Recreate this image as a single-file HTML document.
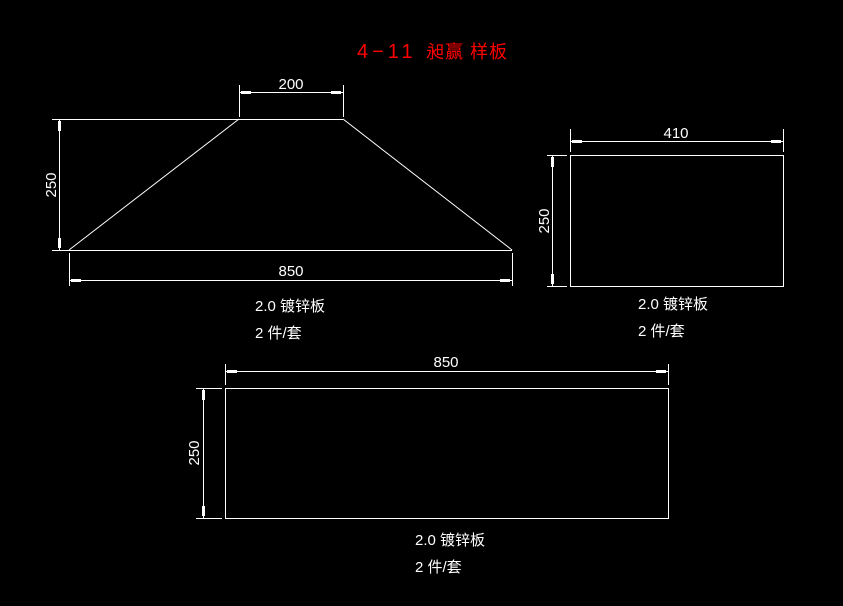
<!DOCTYPE html>
<html><head><meta charset="utf-8"><style>
html,body{margin:0;padding:0;background:#000;}
svg{display:block}
text{font-family:"Liberation Sans","Noto Sans CJK SC",sans-serif;fill:#fff;}
</style></head><body>
<svg width="843" height="606" viewBox="0 0 843 606" xmlns="http://www.w3.org/2000/svg">
<g stroke="#fff" stroke-width="1" fill="none" shape-rendering="crispEdges">
<line x1="52" y1="119.5" x2="343" y2="119.5"/>
<line x1="52" y1="250.5" x2="512" y2="250.5"/>
<line x1="69" y1="250" x2="239" y2="119" shape-rendering="auto"/>
<line x1="343" y1="119" x2="512" y2="250" shape-rendering="auto"/>
<line x1="59.5" y1="119" x2="59.5" y2="250"/>
<line x1="239.5" y1="85" x2="239.5" y2="117"/>
<line x1="343.5" y1="85" x2="343.5" y2="117"/>
<line x1="239" y1="92.5" x2="343" y2="92.5"/>
<line x1="69.5" y1="253" x2="69.5" y2="286"/>
<line x1="512.5" y1="253" x2="512.5" y2="286"/>
<line x1="69" y1="280.5" x2="512" y2="280.5"/>
<rect x="570.5" y="155.5" width="213" height="131"/>
<line x1="570.5" y1="129" x2="570.5" y2="152"/>
<line x1="783.5" y1="129" x2="783.5" y2="152"/>
<line x1="570" y1="141.5" x2="783" y2="141.5"/>
<line x1="547" y1="155.5" x2="567" y2="155.5"/>
<line x1="547" y1="286.5" x2="567" y2="286.5"/>
<line x1="552.5" y1="155" x2="552.5" y2="286"/>
<rect x="225.5" y="388.5" width="443" height="130"/>
<line x1="225.5" y1="364" x2="225.5" y2="385"/>
<line x1="668.5" y1="364" x2="668.5" y2="385"/>
<line x1="225" y1="371.5" x2="668" y2="371.5"/>
<line x1="196" y1="388.5" x2="222" y2="388.5"/>
<line x1="196" y1="518.5" x2="222" y2="518.5"/>
<line x1="203.5" y1="388" x2="203.5" y2="518"/>
</g>
<g fill="#fff">
<rect x="241" y="91" width="10" height="3"/><rect x="331" y="91" width="10" height="3"/>
<rect x="71" y="279" width="10" height="3"/><rect x="500" y="279" width="10" height="3"/>
<rect x="572" y="140" width="10" height="3"/><rect x="771" y="140" width="10" height="3"/>
<rect x="227" y="370" width="10" height="3"/><rect x="656" y="370" width="10" height="3"/>
<rect x="58" y="121" width="3" height="10"/><rect x="58" y="238" width="3" height="10"/>
<rect x="551" y="157" width="3" height="10"/><rect x="551" y="274" width="3" height="10"/>
<rect x="202" y="390" width="3" height="10"/><rect x="202" y="506" width="3" height="10"/>
</g>
<text x="357" y="58" font-size="20" letter-spacing="4" style="fill:#f00">4−11 <tspan font-size="18" letter-spacing="1">昶赢 样板</tspan></text>
<text x="291" y="89" font-size="15" text-anchor="middle">200</text>
<text x="291" y="276" font-size="15" text-anchor="middle">850</text>
<text x="676" y="138" font-size="15" text-anchor="middle">410</text>
<text x="446" y="367" font-size="15" text-anchor="middle">850</text>
<text transform="translate(56,185) rotate(-90)" font-size="15" text-anchor="middle">250</text>
<text transform="translate(549,221) rotate(-90)" font-size="15" text-anchor="middle">250</text>
<text transform="translate(199,453) rotate(-90)" font-size="15" text-anchor="middle">250</text>
<text x="255" y="311" font-size="15">2.0 镀锌板</text>
<text x="255" y="338" font-size="15">2 件/套</text>
<text x="638" y="309" font-size="15">2.0 镀锌板</text>
<text x="638" y="336" font-size="15">2 件/套</text>
<text x="415" y="545" font-size="15">2.0 镀锌板</text>
<text x="415" y="572" font-size="15">2 件/套</text>
</svg>
</body></html>
